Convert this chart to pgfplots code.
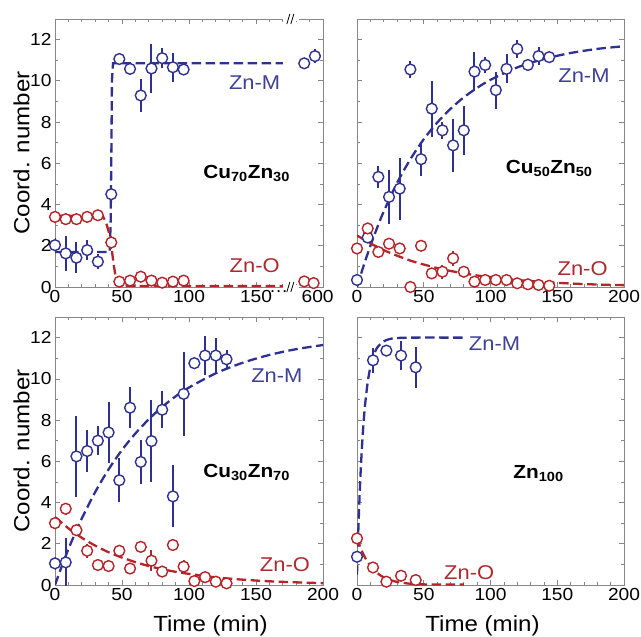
\documentclass[border=0pt]{standalone}
\usepackage{fontspec}
\setmainfont{Liberation Sans}[FakeStretch=1.1]
\usepackage{pgfplots}
\pgfplotsset{compat=1.18}
\usepackage{pgfplotstable}

\definecolor{cblue}{RGB}{46,49,146}
\definecolor{cred}{RGB}{180,36,40}
\definecolor{tblue}{RGB}{62,64,150}
\definecolor{tred}{RGB}{172,42,46}
\definecolor{framegray}{RGB}{135,135,135}
\newcommand{\tickdots}{\ldots}

% ---------- data: t  y  err ----------
\pgfplotstableread{
t y e
0 2.03 0.35
8 1.63 0.85
16 1.42 0.75
24 1.79 0.5
32 1.23 0.35
42 4.5 0.2
48 11.06 0.2
56 10.58 0.2
64 9.29 0.8
72 10.6 1.2
80 11.1 0.5
88 10.66 0.7
96 10.55 0.2
186 10.85 0.2
194 11.2 0.35
}\pAM
\pgfplotstableread{
t y e
0 3.4 0.2
8 3.29 0.15
16 3.29 0.15
24 3.4 0.15
32 3.48 0.2
42 2.16 0.3
48 0.26 0.1
56 0.31 0.1
64 0.5 0.15
72 0.31 0.1
80 0.21 0.1
88 0.26 0.1
96 0.31 0.1
186 0.27 0.1
193 0.19 0.1
}\pAO
\pgfplotstableread{
t y e
0 0.34 0.1
8 2.4 0.2
16 5.34 0.55
24 4.37 1.3
32 4.77 1.5
40 10.55 0.4
48 6.2 0.8
56 8.65 1.35
64 7.6 0.4
72 6.87 1.3
80 7.6 1.2
88 10.45 0.95
96 10.77 0.4
104 9.55 0.9
112 10.58 0.7
120 11.55 0.45
128 10.77 0.2
136 11.2 0.45
144 11.15 0.2
}\pBM
\pgfplotstableread{
t y e
0 1.87 0.15
8 2.84 0.2
16 1.7 0.2
24 2.1 0.15
32 1.87 0.2
40 0.0 0
48 2.0 0.25
56 0.66 0.15
64 0.74 0.35
72 1.39 0.35
80 0.74 0.2
88 0.26 0.1
96 0.34 0.1
104 0.34 0.1
112 0.34 0.1
120 0.18 0.1
128 0.13 0.1
136 0.1 0.1
144 0.06 0.1
}\pBO
\pgfplotstableread{
t y e
0 1.05 0.3
8 1.1 1.2
16 6.24 1.95
24 6.5 1.0
32 7.0 0.7
40 7.4 1.5
48 5.08 1.07
56 8.6 1.0
64 5.97 1.05
72 6.98 1.97
80 8.5 0.9
88 4.3 1.5
96 9.27 2.02
104 10.76 0.25
112 11.13 0.95
120 11.13 0.85
128 10.95 0.45
}\pCM
\pgfplotstableread{
t y e
0 3.0 0.15
8 3.7 0.3
16 2.66 0.2
24 1.66 0.35
32 0.97 0.2
40 0.92 0.15
48 1.66 0.3
56 0.8 0.15
64 1.85 0.15
72 1.18 0.5
80 0.65 0.1
88 1.94 0.25
96 0.89 0.3
104 0.19 0.1
112 0.38 0.1
120 0.16 0.1
128 0.08 0.1
}\pCO
\pgfplotstableread{
t y e
0 1.37 0.2
12 10.9 0.6
22 11.37 0.2
33 11.13 0.72
44 10.56 1.0
}\pDM
\pgfplotstableread{
t y e
0 2.26 0.3
12 0.85 0.15
22 0.16 0.1
33 0.45 0.15
44 0.24 0.1
}\pDO

\pgfplotsset{
  panel/.style={
    scale only axis, width=267bp, height=268bp,
    xmin=0, xmax=200, ymin=0, ymax=13,
    axis line style={draw=framegray, line width=0.9bp},
    tick style={draw=framegray, line width=0.7bp},
    major tick length=5bp, minor tick length=3bp,
    tick align=inside,
    xtick={0,50,100,150,200}, ytick={0,2,4,6,8,10,12},
    minor x tick num=4, minor y tick num=1,
    tick label style={font=\fontsize{17.5}{17.5}\selectfont},
    /pgf/number format/assume math mode=true,
    ylabel style={at={(axis description cs:-0.125,0.5)}, anchor=center, font=\fontsize{22}{22}\selectfont},
    xlabel style={anchor=center, font=\fontsize{22}{22}\selectfont},
  },
  fitM/.style={cblue, line width=2.3bp, dash pattern=on 9.5bp off 4.5bp, no marks},
  fitO/.style={cred, line width=2.3bp, dash pattern=on 9.5bp off 4.5bp, no marks},
  ptsM/.style={only marks, mark=*, mark size=5.4bp,
    mark options={draw=cblue, fill=white, line width=1.4bp, solid},
    error bars/.cd, y dir=both, y explicit, error mark=none,
    error bar style={cblue, line width=2bp, solid}},
  ptsO/.style={only marks, mark=*, mark size=5.4bp,
    mark options={draw=cred, fill=white, line width=1.4bp, solid},
    error bars/.cd, y dir=both, y explicit, error mark=none,
    error bar style={cred, line width=2bp, solid}},
}
\newcommand{\lblM}{\fontsize{20}{20}\selectfont}
\newcommand{\lblC}{\fontsize{19}{19}\selectfont\bfseries}

\begin{document}
\begin{tikzpicture}
\useasboundingbox (0,0) rectangle (641bp,-637bp);

% ---------------- Cu70Zn30 ----------------
\begin{axis}[panel, name=pA, at={(55bp,-287bp)}, anchor=south west,
  width=268bp,
  xticklabels={0,50,100,150,{}},
  extra x ticks={167,196}, extra x tick labels={\tickdots,600},
  extra x tick style={major tick length=0pt},
  ylabel={Coord. number}]
\addplot[fitM] coordinates {(0,1.7)(40.8,1.7)(41.5,3)(42,6)(42.5,10)(43.3,10.85)(170,10.85)};
\addplot[fitO] coordinates {(0,3.45)(34,3.45)(36,3.4)(38,3.15)(40,2.7)(42,2.0)(44,1.0)(45.5,0.4)(47,0.12)(49,0.05)(170,0.05)};
\addplot[ptsM] table[x=t,y=y,y error=e]{\pAM};
\addplot[ptsO] table[x=t,y=y,y error=e]{\pAO};
\node[tblue, font=\lblM] at (axis cs:149,9.9) {Zn-M};
\node[tred, font=\lblM] at (axis cs:149,1.06) {Zn-O};
\node[font=\lblC] at (axis cs:143,5.5) {Cu\textsubscript{70}Zn\textsubscript{30}};
\coordinate (bt) at (axis cs:176,13);
\coordinate (bb) at (axis cs:176,0);
\end{axis}
\fill[white] ([xshift=-8bp,yshift=-2bp]bt) rectangle ([xshift=8bp,yshift=2bp]bt);
\draw[black, line width=0.8bp] ([xshift=-4bp,yshift=-5bp]bt) -- ([xshift=-1bp,yshift=5bp]bt);
\draw[black, line width=0.8bp] ([xshift=0bp,yshift=-5bp]bt) -- ([xshift=3bp,yshift=5bp]bt);
\fill[white] ([xshift=-8bp,yshift=-2bp]bb) rectangle ([xshift=8bp,yshift=2bp]bb);
\draw[black, line width=0.8bp] ([xshift=-4bp,yshift=-5bp]bb) -- ([xshift=-1bp,yshift=5bp]bb);
\draw[black, line width=0.8bp] ([xshift=0bp,yshift=-5bp]bb) -- ([xshift=3bp,yshift=5bp]bb);

% ---------------- Cu50Zn50 ----------------
\begin{axis}[panel, name=pB, at={(357bp,-287bp)}, anchor=south west,
  yticklabels={}]
\addplot[fitM, smooth] coordinates {(0,0)(5,1.04)(10,1.99)(15,2.86)(20,3.66)(30,5.05)(40,6.2)(50,7.17)(60,7.97)(70,8.64)(80,9.2)(90,9.66)(100,10.05)(120,10.65)(140,11.06)(160,11.35)(180,11.55)(200,11.68)};
\addplot[fitO, smooth] coordinates {(0,2.5)(10,2.12)(20,1.79)(30,1.52)(40,1.28)(50,1.09)(60,0.92)(70,0.78)(80,0.66)(90,0.56)(100,0.47)(120,0.34)(140,0.24)(160,0.17)(180,0.12)(200,0.09)};
\addplot[ptsM] table[x=t,y=y,y error=e]{\pBM};
\addplot[ptsO] table[x=t,y=y,y error=e]{\pBO};
\node[tblue, font=\lblM] at (axis cs:170,10.26) {Zn-M};
\node[tred, font=\lblM] at (axis cs:169,0.87) {Zn-O};
\node[font=\lblC] at (axis cs:144,5.75) {Cu\textsubscript{50}Zn\textsubscript{50}};
\end{axis}

% ---------------- Cu30Zn70 ----------------
\begin{axis}[panel, name=pC, at={(55bp,-585bp)}, anchor=south west,
  width=268bp,
  ylabel={Coord. number}, xlabel={Time (min)},
  xlabel style={at={(axis description cs:0.58,-0.153)}}]
\addplot[fitM, smooth] coordinates {(0,0)(5,0.9)(10,1.74)(15,2.51)(20,3.23)(30,4.51)(40,5.61)(50,6.55)(60,7.35)(70,8.04)(80,8.64)(90,9.15)(100,9.58)(120,10.27)(140,10.78)(160,11.16)(180,11.44)(200,11.64)};
\addplot[fitO, smooth] coordinates {(0,3.3)(10,2.75)(20,2.29)(30,1.91)(40,1.59)(50,1.33)(60,1.11)(70,0.92)(80,0.77)(90,0.64)(100,0.54)(120,0.37)(140,0.26)(160,0.18)(180,0.13)(200,0.09)};
\addplot[ptsM] table[x=t,y=y,y error=e]{\pCM};
\addplot[ptsO] table[x=t,y=y,y error=e]{\pCO};
\node[tblue, font=\lblM] at (axis cs:165.6,10.16) {Zn-M};
\node[tred, font=\lblM] at (axis cs:171.6,0.97) {Zn-O};
\node[font=\lblC] at (axis cs:143,5.47) {Cu\textsubscript{30}Zn\textsubscript{70}};
\end{axis}

% ---------------- Zn100 ----------------
\begin{axis}[panel, name=pD, at={(357bp,-585bp)}, anchor=south west,
  yticklabels={}, xlabel={Time (min)},
  xlabel style={at={(axis description cs:0.47,-0.153)}}]
\addplot[fitM, smooth] coordinates {(0,0.5)(1,2.66)(2,4.42)(3,5.84)(4,7.0)(5,7.94)(6,8.71)(8,9.83)(10,10.57)(12,11.06)(15,11.5)(20,11.82)(25,11.94)(30,11.98)(40,12)(80,12)};
\addplot[fitO, smooth] coordinates {(0,2.3)(3,1.75)(6,1.33)(10,0.93)(15,0.59)(20,0.37)(25,0.24)(30,0.15)(40,0.06)(50,0.03)(80,0.02)};
\addplot[ptsM] table[x=t,y=y,y error=e]{\pDM};
\addplot[ptsO] table[x=t,y=y,y error=e]{\pDO};
\node[tblue, font=\lblM] at (axis cs:103,11.7) {Zn-M};
\node[tred, font=\lblM] at (axis cs:84,0.58) {Zn-O};
\node[font=\lblC] at (axis cs:136,5.4) {Zn\textsubscript{100}};
\end{axis}
\end{tikzpicture}
\end{document}
